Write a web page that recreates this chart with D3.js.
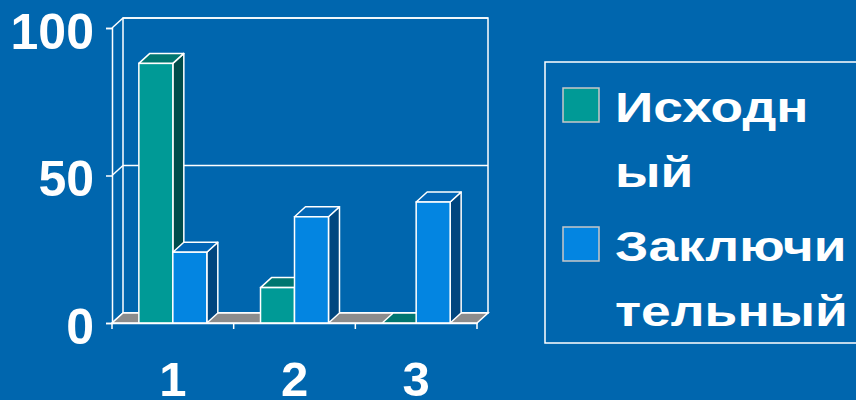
<!DOCTYPE html>
<html><head><meta charset="utf-8">
<script src="https://cdn.jsdelivr.net/npm/d3@7"></script>
<style>html,body{margin:0;padding:0;background:#0066ae;overflow:hidden}</style>
</head><body>
<script>
const categories = ["1", "2", "3"];
const seriesNames = ["Исходный", "Заключительный"];
const initialValues = [88, 12, 0];
const finalValues = [24, 36, 41];
const yTicks = [0, 50, 100];
const legendLines = [["Исходн", "ый"], ["Заключи", "тельный"]];

const W = 856, H = 400;
const bg = "#0066ae";
const faceColors = {
  front: ["#009a96", "#0385e1"],
  top:   ["#007670", "#0266b6"],
  side:  ["#004c4a", "#00467f"]
};
const DX = 11, DY = -10;
const font = "'Liberation Sans', Arial, sans-serif";

const svg = d3.select("body").append("svg").attr("width", W).attr("height", H);
svg.append("rect").attr("width", W).attr("height", H).attr("fill", bg);

const y = d3.scaleLinear().domain([0, 100]).range([323, 28]);
const x = d3.scaleBand().domain(categories).range([112, 477]).paddingInner(0).paddingOuter(0);
const xs = d3.scaleBand().domain(seriesNames).range([0, x.bandwidth()]).paddingInner(0).paddingOuter(0.79);

const g = svg.append("g");
const line = (x1, y1, x2, y2) => g.append("line").attr("x1", x1).attr("y1", y1).attr("x2", x2).attr("y2", y2)
  .attr("stroke", "#fff").attr("stroke-width", 1.5);

const x0 = x.range()[0], x1 = x.range()[1];
// back wall
g.append("rect").attr("x", x0 + DX).attr("y", y(100) + DY).attr("width", x1 - x0).attr("height", y(0) - y(100))
  .attr("fill", "none").attr("stroke", "#fff").attr("stroke-width", 1.5);
// gridlines on back wall and left wall diagonals
yTicks.forEach(t => {
  line(x0 + DX, y(t) + DY, x1 + DX, y(t) + DY);
  line(x0, y(t), x0 + DX, y(t) + DY);
});
// floor
g.append("path")
  .attr("d", `M${x0},${y(0)}L${x1},${y(0)}L${x1 + DX},${y(0) + DY}L${x0 + DX},${y(0) + DY}Z`)
  .attr("fill", "#8c8c8c").attr("stroke", "#fff").attr("stroke-width", 1.5);

// bars
const data = [];
categories.forEach((c, i) => {
  data.push({c, s: seriesNames[0], v: initialValues[i], k: 0});
  data.push({c, s: seriesNames[1], v: finalValues[i], k: 1});
});
data.forEach(d => {
  const bx = x(d.c) + xs(d.s), bw = xs.bandwidth();
  const yt = y(d.v), yb = y(0);
  const bar = g.append("g");
  bar.append("path")
    .attr("d", `M${bx + bw},${yt}L${bx + bw + DX},${yt + DY}L${bx + bw + DX},${yb + DY}L${bx + bw},${yb}Z`)
    .attr("fill", faceColors.side[d.k]).attr("stroke", "#fff").attr("stroke-width", 1.5).attr("stroke-linejoin", "round");
  bar.append("path")
    .attr("d", `M${bx},${yt}L${bx + DX},${yt + DY}L${bx + bw + DX},${yt + DY}L${bx + bw},${yt}Z`)
    .attr("fill", faceColors.top[d.k]).attr("stroke", "#fff").attr("stroke-width", 1.5).attr("stroke-linejoin", "round");
  if (d.v > 0) {
    bar.append("rect").attr("x", bx).attr("y", yt).attr("width", bw).attr("height", yb - yt)
      .attr("fill", faceColors.front[d.k]).attr("stroke", "#fff").attr("stroke-width", 1.5);
  }
});

// y axis
const yAxis = d3.axisLeft(y).tickValues(yTicks).tickSize(6).tickPadding(12).tickFormat(d3.format("d"));
const ya = svg.append("g").attr("transform", `translate(${x0},0)`).call(yAxis);
ya.select(".domain").attr("stroke", "#fff").attr("stroke-width", 1.5);
ya.selectAll(".tick line").attr("stroke", "#fff").attr("stroke-width", 1.5);
ya.selectAll(".tick text").attr("fill", "#fff").attr("font-family", font).attr("font-weight", "bold")
  .attr("font-size", 50).attr("dy", null).attr("y", 20).attr("x", -18);

// x axis
const xAxis = d3.axisBottom(x).tickSize(0).tickPadding(0);
const xa = svg.append("g").attr("transform", `translate(0,${y(0)})`).call(xAxis);
xa.select(".domain").attr("stroke", "#fff").attr("stroke-width", 1.5);
xa.selectAll(".tick text").attr("fill", "#fff").attr("font-family", font).attr("font-weight", "bold")
  .attr("font-size", 49).attr("dy", null).attr("y", 73);
const bounds = categories.map(c => x(c)).concat([x1]);
bounds.forEach(b => xa.append("line").attr("x1", b).attr("x2", b).attr("y1", 0).attr("y2", 6)
  .attr("stroke", "#fff").attr("stroke-width", 1.5));

// legend
const lg = svg.append("g");
lg.append("rect").attr("x", 545).attr("y", 62).attr("width", 320).attr("height", 281)
  .attr("fill", bg).attr("stroke", "#fff").attr("stroke-width", 1.5);
const legendTop = [88, 227];
seriesNames.forEach((s, i) => {
  lg.append("rect").attr("x", 563).attr("y", legendTop[i]).attr("width", 36).attr("height", 34)
    .attr("fill", faceColors.front[i]).attr("stroke", "#c8c8c8").attr("stroke-width", 1.5);
  legendLines[i].forEach((t, j) => {
    lg.append("text")
      .attr("transform", `translate(615,${legendTop[i] + 34 + j * 65}) scale(1.24,1)`)
      .attr("fill", "#fff").attr("font-family", font).attr("font-weight", "bold").attr("font-size", 43)
      .text(t);
  });
});
</script>
</body></html>
